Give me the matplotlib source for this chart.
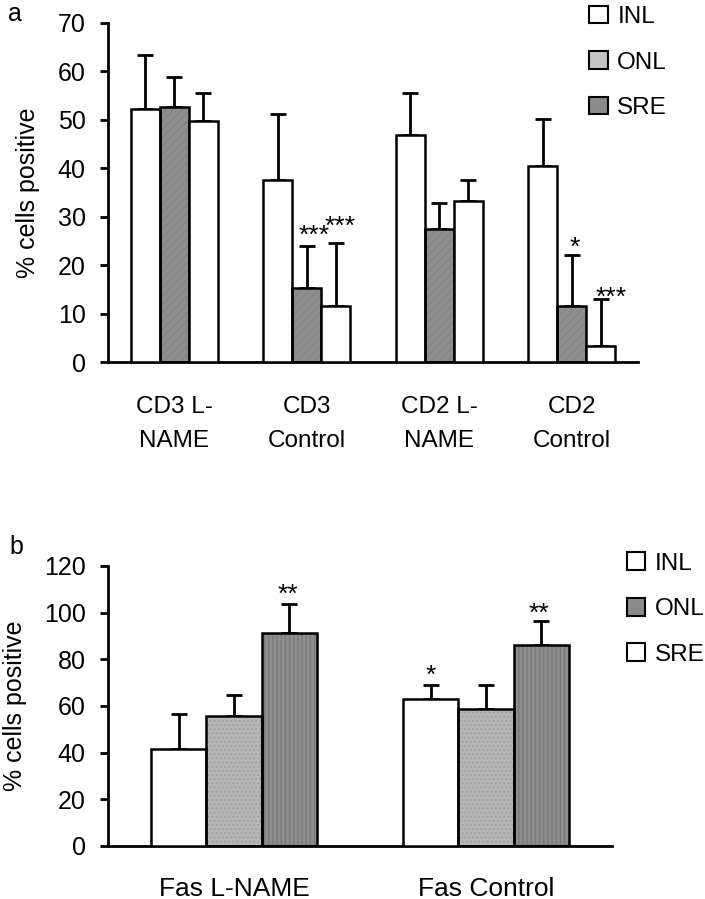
import numpy as np
import matplotlib
matplotlib.use("Agg")
import matplotlib.pyplot as plt
from matplotlib.patches import Patch

plt.rcParams["font.family"] = ["Liberation Sans", "DejaVu Sans"]
plt.rcParams["font.size"] = 18

# panel a data
groups_a = ["CD3 L-\nNAME", "CD3\nControl", "CD2 L-\nNAME", "CD2\nControl"]
inl_a = [52.2, 37.6, 46.9, 40.5]
inl_a_err = [11.1, 13.5, 8.6, 9.7]
onl_a = [52.6, 15.4, 27.5, 11.5]
onl_a_err = [6.3, 8.6, 5.3, 10.7]
sre_a = [49.7, 11.5, 33.3, 3.3]
sre_a_err = [5.8, 13.0, 4.3, 9.7]
stars_a = [["", "", "", ""], ["", "***", "", "*"], ["", "***", "", "***"]]

# panel b data
groups_b = ["Fas L-NAME", "Fas Control"]
inl_b = [41.4, 62.9]
inl_b_err = [15.3, 6.0]
onl_b = [55.8, 58.7]
onl_b_err = [9.1, 10.2]
sre_b = [91.4, 86.3]
sre_b_err = [12.3, 10.3]
stars_b = [["", "*"], ["", ""], ["**", "**"]]

legend_labels = ["INL", "ONL", "SRE"]

# star offsets (points) per series/group, to avoid overlaps
star_off_a = [[(0, 0)] * 4, [(0, 0), (5, 7), (0, 0), (2, 4.5)], [(0, 0), (3, 12), (0, 0), (7, 1)]]
star_off_b = [[(0, 0), (0, 7)], [(0, 0)] * 2, [(-1, 6.5), (-2, 5)]]


def draw_bars(ax, x, vals, errs, face, hatch=None, hatch_color="#6a6a6a"):
    if hatch:
        ax.bar(x, vals, width=w, color=face, edgecolor=hatch_color, hatch=hatch,
               linewidth=0, zorder=2)
        ax.bar(x, vals, width=w, fill=False, edgecolor="black", linewidth=1.8, zorder=3)
    else:
        ax.bar(x, vals, width=w, color=face, edgecolor="black", linewidth=1.8, zorder=3)
    ax.errorbar(x, vals, yerr=[np.zeros(len(vals)), errs], fmt="none", ecolor="black",
                elinewidth=2, capsize=6, capthick=2, zorder=1)


def add_stars(ax, x, series, stars, offsets):
    for i, (vals, errs) in enumerate(series):
        for j in range(len(x)):
            if stars[i][j]:
                dx, dy = offsets[i][j]
                ax.annotate(stars[i][j], (x[j] + (i - 1) * w, vals[j] + errs[j]),
                            xytext=(dx, dy), textcoords="offset points",
                            ha="center", va="center", fontsize=19)


def style_axis(ax, ymax, step, xpad):
    ax.set_ylim(0, ymax)
    ax.set_yticks(np.arange(0, ymax + 1, step))
    for s in ["top", "right"]:
        ax.spines[s].set_visible(False)
    for s in ["left", "bottom"]:
        ax.spines[s].set_linewidth(2)
    ax.tick_params(axis="y", length=6, width=2, pad=10)
    ax.tick_params(axis="x", length=0, pad=xpad)


fig = plt.figure(figsize=(7.05, 8.99), dpi=100)
w = 0.22

# ---- panel a ----
ax1 = fig.add_axes([0.1532, 0.597, 0.7518, 0.3778])
xa = np.arange(len(groups_a))
series_a = [(inl_a, inl_a_err), (onl_a, onl_a_err), (sre_a, sre_a_err)]
draw_bars(ax1, xa - w, inl_a, inl_a_err, "white")
draw_bars(ax1, xa, onl_a, onl_a_err, "#8e8e8e", hatch="////", hatch_color="#858585")
draw_bars(ax1, xa + w, sre_a, sre_a_err, "white")
add_stars(ax1, xa, series_a, stars_a, star_off_a)
ax1.set_xlim(-0.5, len(groups_a) - 0.5)
ax1.set_xticks(xa)
ax1.set_xticklabels(groups_a, linespacing=1.75, fontsize=17.5)
style_axis(ax1, 70, 10, 24)
ax1.set_ylabel("% cells positive")
ax1.yaxis.set_label_coords(-0.128, 0.5)

handles_a = [Patch(facecolor="white", edgecolor="black", linewidth=1.5),
             Patch(facecolor="#c4c4c4", edgecolor="black", linewidth=1.5),
             Patch(facecolor="#8a8a8a", edgecolor="black", linewidth=1.5)]
fig.legend(handles_a, legend_labels, loc="upper left", bbox_to_anchor=(0.805, 1.018),
           frameon=False, handlelength=0.75, handleheight=0.75, handletextpad=0.4,
           labelspacing=0.95, fontsize=17.5)
fig.text(0.012, 0.984, "a", fontsize=18, va="center")

# ---- panel b ----
ax2 = fig.add_axes([0.1532, 0.059, 0.7149, 0.3115])
xb = np.arange(len(groups_b))
series_b = [(inl_b, inl_b_err), (onl_b, onl_b_err), (sre_b, sre_b_err)]
draw_bars(ax2, xb - w, inl_b, inl_b_err, "white")
draw_bars(ax2, xb, onl_b, onl_b_err, "#b6b6b6", hatch="....", hatch_color="#a2a2a2")
draw_bars(ax2, xb + w, sre_b, sre_b_err, "#8e8e8e", hatch="||||", hatch_color="#7a7a7a")
add_stars(ax2, xb, series_b, stars_b, star_off_b)
ax2.set_xlim(-0.5, len(groups_b) - 0.5)
ax2.set_xticks(xb)
ax2.set_xticklabels(groups_b, fontsize=19)
style_axis(ax2, 120, 20, 22)
ax2.set_ylabel("% cells positive")
ax2.yaxis.set_label_coords(-0.16, 0.5)

handles_b = [Patch(facecolor="white", edgecolor="black", linewidth=1.5),
             Patch(facecolor="#8a8a8a", edgecolor="black", linewidth=1.5),
             Patch(facecolor="white", edgecolor="black", linewidth=1.5)]
fig.legend(handles_b, legend_labels, loc="upper left", bbox_to_anchor=(0.858, 0.41),
           frameon=False, handlelength=0.75, handleheight=0.75, handletextpad=0.4,
           labelspacing=0.95, fontsize=17.5)
fig.text(0.014, 0.391, "b", fontsize=18, va="center")

fig.savefig("out.png", dpi=100)
